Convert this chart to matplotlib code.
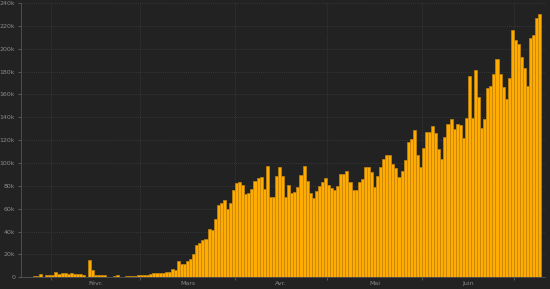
import numpy as np
import pandas as pd
import matplotlib
matplotlib.use("Agg")
import matplotlib.pyplot as plt
import matplotlib.dates as mdates
from matplotlib.ticker import FuncFormatter, MultipleLocator

# daily new cases, in thousands
jan = [0.1, 0.1, 0.3, 0.5, 0.7, 0.8, 2.7, 0.6, 2.1, 1.7]  # from Jan 22
feb = [2.1, 4.7, 3.1, 4.0, 3.7, 3.2, 3.6, 2.7, 3.0, 2.6,
       2.0, 0.4, 15.2, 6.5, 2.3, 2.2, 2.1, 1.9, 0.5, 0.6,
       1.0, 1.9, 0.6, 0.5, 0.9, 0.9, 1.1, 1.4, 1.7]
mar = [2.0, 2.2, 2.4, 2.9, 3.8, 3.9, 3.9, 3.9, 4.4, 4.6,
       7.5, 6.0, 14.6, 11.2, 11.2, 14.3, 15.8, 20.0, 28.3, 29.8,
       33.0, 33.6, 42.0, 41.5, 50.8, 63.0, 64.6, 67.7, 59.8, 64.6,
       76.7]
apr = [82.3, 83.5, 80.8, 72.7, 73.5, 77.0, 84.6, 86.7, 88.0, 77.3,
       97.5, 70.0, 70.0, 88.7, 96.9, 88.7, 70.6, 81.0, 74.0, 75.0,
       79.4, 89.6, 97.5, 84.3, 73.5, 69.2, 75.9, 80.0, 83.7, 86.7]
may = [80.8, 77.9, 76.4, 80.2, 90.2, 90.7, 93.1, 83.7, 76.4, 76.4,
       83.7, 85.8, 96.9, 96.9, 91.9, 79.4, 88.7, 96.9, 103.3, 107.1,
       107.1, 98.9, 96.0, 87.8, 93.1, 102.7, 118.2, 120.8, 129.0, 107.1,
       96.9]
jun = [113.0, 127.0, 127.0, 132.5, 126.0, 112.3, 103.6, 123.1, 134.0, 138.6,
       129.6, 134.0, 133.4, 122.3, 139.8, 176.3, 139.8, 181.5, 158.2, 131.0,
       138.6, 165.5, 167.8, 178.0, 191.2, 178.0, 166.4, 156.4, 174.8, 216.5]
jul = [207.8, 204.3, 193.2, 183.5, 167.8, 209.8, 212.2, 227.3, 230.3]

month_labels = ["Févr.", "Mars", "Avr.", "Mai", "Juin"]

cases = np.array(jan + feb + mar + apr + may + jun + jul) * 1000
dates = pd.date_range("2020-01-22", periods=len(cases), freq="D")

bg = "#222222"
fig = plt.figure(figsize=(5.5, 2.89), dpi=100, facecolor=bg)
ax = fig.add_axes([0.0376, 0.0405, 0.9524, 0.949])
ax.set_facecolor(bg)

ax.bar(dates, cases, width=1.0, align="edge", color="#FFAB00",
       edgecolor="#C4860C", linewidth=0.5, zorder=2)

ax.set_xlim(dates[0], dates[-1] + pd.Timedelta(days=2))
ax.set_ylim(0, 240000)

ax.yaxis.set_major_locator(MultipleLocator(20000))
ax.yaxis.set_major_formatter(FuncFormatter(lambda v, p: "0" if v == 0 else f"{int(v / 1000)}k"))

# month starts: gridlines + small ticks, labels centred mid-month
ax.xaxis.set_major_locator(mdates.MonthLocator())
ax.xaxis.set_major_formatter(plt.NullFormatter())
mids = []
for m in range(2, 7):
    start = pd.Timestamp(2020, m, 1)
    mids.append(start + (start + pd.offsets.MonthBegin(1) - start) / 2)
ax.set_xticks(mdates.date2num(mids), minor=True)
ax.set_xticklabels(month_labels, minor=True)

ax.tick_params(axis="x", which="major", length=2, color="#555555")
ax.tick_params(axis="x", which="minor", length=0, pad=3, labelsize=4.5, labelcolor="#8a8a8a")
ax.tick_params(axis="y", length=2, color="#555555", pad=2, labelsize=4.5, labelcolor="#8a8a8a")

ax.grid(True, which="major", color="#3e3e3e", linestyle=(0, (1, 1.5)), linewidth=0.6)
ax.set_axisbelow(True)

for side in ["top", "right"]:
    ax.spines[side].set_visible(False)
for side in ["left", "bottom"]:
    ax.spines[side].set_color("#555555")
    ax.spines[side].set_linewidth(0.6)

fig.savefig("out.png", dpi=100, facecolor=bg)
